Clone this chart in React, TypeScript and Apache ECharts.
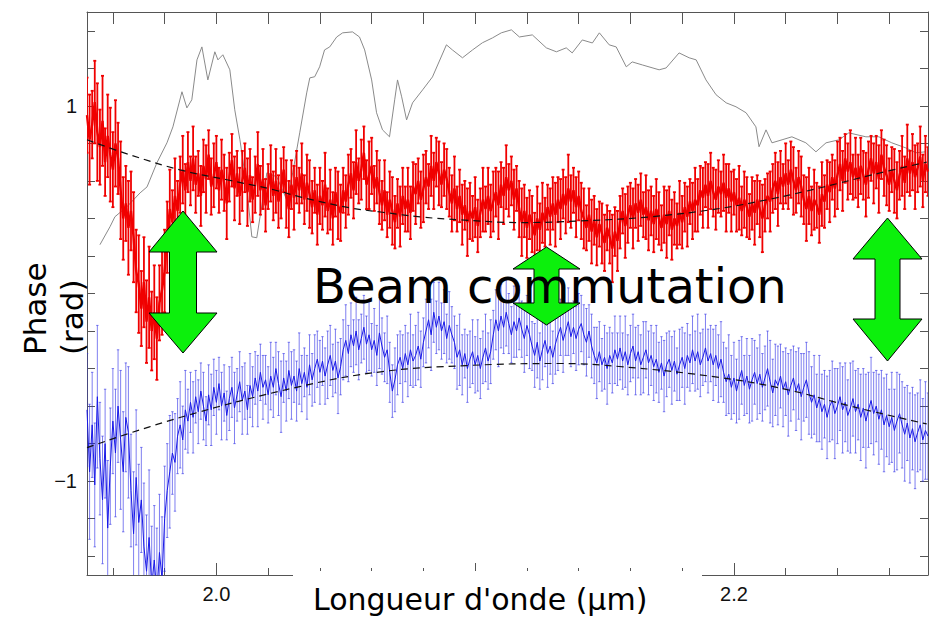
import React, { useEffect, useRef } from "react";
import * as echarts from "echarts";

// Spectral sampling of the phase measurements (µm)
const WL_START = 1.95;
const WL_STEP = 0.001;

const redPhase = [
  0.95, 0.82, 0.90, 1.02, 0.86, 0.78, 0.92, 0.70, 0.84, 0.74,
  0.66, 0.80, 0.72, 0.55, 0.40, 0.48, 0.35, 0.44, 0.30, 0.12,
  0.05, -0.08, 0.06, -0.15, -0.02, -0.20, -0.10, -0.24, -0.05, 0.02,
  0.12, 0.30, 0.45, 0.38, 0.52, 0.44, 0.58, 0.66, 0.55, 0.70,
  0.60, 0.72, 0.58, 0.64, 0.52, 0.68, 0.61, 0.74, 0.57, 0.63,
  0.70, 0.55, 0.66, 0.59, 0.48, 0.62, 0.71, 0.56, 0.64, 0.52,
  0.60, 0.67, 0.54, 0.63, 0.50, 0.58, 0.69, 0.55, 0.61, 0.47,
  0.57, 0.64, 0.52, 0.60, 0.49, 0.56, 0.66, 0.53, 0.45, 0.58,
  0.51, 0.62, 0.55, 0.64, 0.50, 0.59, 0.53, 0.46, 0.55, 0.42,
  0.52, 0.47, 0.58, 0.44, 0.50, 0.40, 0.54, 0.47, 0.43, 0.55,
  0.49, 0.58, 0.64, 0.55, 0.70, 0.60, 0.66, 0.75, 0.58, 0.63,
  0.68, 0.56, 0.62, 0.54, 0.47, 0.55, 0.42, 0.50, 0.44, 0.38,
  0.48, 0.41, 0.52, 0.45, 0.50, 0.43, 0.57, 0.53, 0.60, 0.50,
  0.56, 0.62, 0.57, 0.68, 0.60, 0.70, 0.64, 0.58, 0.66, 0.61,
  0.54, 0.48, 0.56, 0.45, 0.52, 0.42, 0.47, 0.38, 0.44, 0.40,
  0.46, 0.36, 0.43, 0.50, 0.45, 0.52, 0.44, 0.49, 0.54, 0.47,
  0.58, 0.52, 0.62, 0.55, 0.60, 0.50, 0.56, 0.45, 0.38, 0.44,
  0.35, 0.42, 0.37, 0.31, 0.40, 0.34, 0.43, 0.38, 0.46, 0.41,
  0.48, 0.42, 0.50, 0.45, 0.53, 0.47, 0.56, 0.49, 0.55, 0.46,
  0.52, 0.44, 0.40, 0.35, 0.42, 0.33, 0.39, 0.30, 0.37, 0.32,
  0.27, 0.35, 0.30, 0.24, 0.33, 0.28, 0.38, 0.44, 0.36, 0.42,
  0.47, 0.40, 0.48, 0.43, 0.50, 0.42, 0.46, 0.39, 0.44, 0.37,
  0.45, 0.40, 0.35, 0.42, 0.37, 0.44, 0.34, 0.40, 0.36, 0.43,
  0.38, 0.46, 0.41, 0.49, 0.44, 0.50, 0.47, 0.55, 0.51, 0.58,
  0.52, 0.60, 0.54, 0.50, 0.57, 0.53, 0.59, 0.51, 0.56, 0.49,
  0.54, 0.47, 0.51, 0.44, 0.50, 0.46, 0.41, 0.48, 0.43, 0.50,
  0.45, 0.40, 0.47, 0.52, 0.49, 0.56, 0.60, 0.53, 0.62, 0.57,
  0.64, 0.58, 0.66, 0.60, 0.55, 0.62, 0.57, 0.50, 0.45, 0.52,
  0.44, 0.50, 0.47, 0.42, 0.53, 0.49, 0.58, 0.54, 0.62, 0.56,
  0.63, 0.69, 0.60, 0.72, 0.65, 0.70, 0.62, 0.67, 0.60, 0.68,
  0.63, 0.58, 0.66, 0.72, 0.64, 0.70, 0.61, 0.74, 0.67, 0.63,
  0.58, 0.66, 0.60, 0.55, 0.63, 0.68, 0.59, 0.72, 0.64, 0.70,
  0.62, 0.67, 0.73, 0.60, 0.69, 0.65,
];

const redError = [
  0.20, 0.24, 0.18, 0.22, 0.26, 0.20, 0.24, 0.18, 0.22, 0.25,
  0.20, 0.23, 0.19, 0.26, 0.22, 0.20, 0.25, 0.21, 0.24, 0.22,
  0.26, 0.20, 0.24, 0.22, 0.27, 0.21, 0.25, 0.22, 0.20, 0.24,
  0.22, 0.19, 0.21, 0.17, 0.20, 0.16, 0.15, 0.18, 0.14, 0.16,
  0.13, 0.17, 0.15, 0.12, 0.16, 0.14, 0.18, 0.13, 0.15, 0.17,
  0.14, 0.12, 0.16, 0.15, 0.19, 0.13, 0.14, 0.17, 0.12, 0.15,
  0.16, 0.13, 0.18, 0.14, 0.12, 0.15, 0.17, 0.13, 0.16, 0.14,
  0.12, 0.15, 0.13, 0.17, 0.14, 0.16, 0.12, 0.18, 0.15, 0.13,
  0.17, 0.14, 0.12, 0.16, 0.13, 0.15, 0.18, 0.14, 0.12, 0.16,
  0.15, 0.13, 0.17, 0.12, 0.16, 0.14, 0.13, 0.18, 0.15, 0.12,
  0.14, 0.16, 0.13, 0.15, 0.17, 0.12, 0.16, 0.14, 0.13, 0.18,
  0.15, 0.12, 0.14, 0.17, 0.13, 0.16, 0.12, 0.15, 0.18, 0.14,
  0.13, 0.16, 0.15, 0.12, 0.17, 0.14, 0.13, 0.16, 0.12, 0.15,
  0.18, 0.14, 0.12, 0.16, 0.15, 0.13, 0.17, 0.12, 0.14, 0.16,
  0.13, 0.15, 0.17, 0.12, 0.14, 0.16, 0.13, 0.18, 0.15, 0.12,
  0.16, 0.14, 0.13, 0.17, 0.12, 0.15, 0.14, 0.16, 0.13, 0.18,
  0.12, 0.15, 0.17, 0.14, 0.13, 0.16, 0.12, 0.15, 0.18, 0.14,
  0.16, 0.13, 0.15, 0.12, 0.17, 0.14, 0.16, 0.13, 0.12, 0.15,
  0.14, 0.17, 0.12, 0.16, 0.13, 0.15, 0.18, 0.14, 0.12, 0.16,
  0.13, 0.15, 0.16, 0.12, 0.14, 0.17, 0.13, 0.15, 0.12, 0.16,
  0.15, 0.12, 0.14, 0.18, 0.13, 0.16, 0.14, 0.12, 0.17, 0.15,
  0.12, 0.16, 0.13, 0.15, 0.14, 0.12, 0.17, 0.16, 0.13, 0.15,
  0.16, 0.14, 0.12, 0.15, 0.18, 0.13, 0.16, 0.14, 0.12, 0.17,
  0.14, 0.13, 0.16, 0.12, 0.15, 0.17, 0.14, 0.13, 0.16, 0.12,
  0.17, 0.15, 0.13, 0.16, 0.14, 0.12, 0.15, 0.18, 0.13, 0.16,
  0.12, 0.14, 0.17, 0.13, 0.15, 0.16, 0.12, 0.14, 0.17, 0.13,
  0.15, 0.18, 0.14, 0.12, 0.16, 0.13, 0.15, 0.17, 0.14, 0.12,
  0.16, 0.13, 0.15, 0.18, 0.12, 0.14, 0.16, 0.13, 0.17, 0.15,
  0.13, 0.16, 0.12, 0.15, 0.17, 0.14, 0.13, 0.16, 0.12, 0.15,
  0.18, 0.14, 0.16, 0.13, 0.15, 0.17, 0.12, 0.16, 0.14, 0.15,
  0.13, 0.17, 0.15, 0.12, 0.16, 0.14, 0.18, 0.13, 0.15, 0.16,
  0.14, 0.12, 0.17, 0.15, 0.13, 0.16, 0.14, 0.18, 0.12, 0.15,
  0.17, 0.13, 0.16, 0.14, 0.15, 0.13,
];

const bluePhase = [
  -0.62, -0.95, -0.70, -1.02, -0.55, -0.88, -1.10, -0.80, -1.25, -0.92,
  -0.68, -0.85, -0.60, -0.78, -0.95, -0.66, -0.74, -1.05, -1.28, -0.98,
  -1.22, -1.10, -1.35, -1.48, -1.30, -1.56, -1.42, -1.60, -1.38, -1.52,
  -1.20, -1.05, -0.95, -0.85, -0.90, -0.76, -0.70, -0.78, -0.62, -0.68,
  -0.58, -0.66, -0.55, -0.63, -0.52, -0.60, -0.68, -0.54, -0.62, -0.50,
  -0.58, -0.48, -0.60, -0.53, -0.65, -0.56, -0.50, -0.61, -0.54, -0.47,
  -0.57, -0.52, -0.62, -0.49, -0.55, -0.45, -0.52, -0.42, -0.50, -0.46,
  -0.54, -0.44, -0.50, -0.40, -0.48, -0.55, -0.45, -0.52, -0.41, -0.49,
  -0.44, -0.52, -0.40, -0.48, -0.42, -0.50, -0.38, -0.46, -0.40, -0.35,
  -0.42, -0.36, -0.44, -0.38, -0.33, -0.41, -0.36, -0.45, -0.39, -0.30,
  -0.25, -0.32, -0.22, -0.28, -0.20, -0.30, -0.24, -0.18, -0.27, -0.22,
  -0.30, -0.25, -0.33, -0.21, -0.28, -0.34, -0.30, -0.42, -0.52, -0.46,
  -0.38, -0.34, -0.40, -0.32, -0.38, -0.30, -0.36, -0.33, -0.28, -0.35,
  -0.26, -0.20, -0.14, -0.22, -0.10, -0.18, -0.12, -0.20, -0.15, -0.24,
  -0.17, -0.22, -0.26, -0.34, -0.30, -0.38, -0.32, -0.40, -0.35, -0.31,
  -0.38, -0.33, -0.40, -0.34, -0.29, -0.36, -0.31, -0.22, -0.14, -0.20,
  -0.12, -0.18, -0.10, -0.16, -0.22, -0.15, -0.20, -0.13, -0.19, -0.24,
  -0.17, -0.22, -0.28, -0.33, -0.26, -0.36, -0.30, -0.25, -0.32, -0.28,
  -0.34, -0.27, -0.22, -0.18, -0.25, -0.20, -0.15, -0.23, -0.18, -0.24,
  -0.19, -0.16, -0.22, -0.26, -0.20, -0.28, -0.33, -0.37, -0.31, -0.38,
  -0.34, -0.40, -0.33, -0.37, -0.30, -0.35, -0.29, -0.36, -0.31, -0.38,
  -0.32, -0.28, -0.36, -0.31, -0.38, -0.34, -0.30, -0.37, -0.33, -0.39,
  -0.35, -0.42, -0.37, -0.44, -0.38, -0.35, -0.41, -0.36, -0.43, -0.38,
  -0.34, -0.40, -0.33, -0.37, -0.30, -0.36, -0.31, -0.38, -0.34, -0.29,
  -0.36, -0.32, -0.38, -0.33, -0.40, -0.35, -0.42, -0.47, -0.43, -0.50,
  -0.45, -0.52, -0.46, -0.41, -0.49, -0.44, -0.51, -0.46, -0.42, -0.48,
  -0.43, -0.50, -0.45, -0.40, -0.47, -0.53, -0.46, -0.49, -0.44, -0.51,
  -0.47, -0.54, -0.49, -0.45, -0.52, -0.48, -0.55, -0.50, -0.46, -0.53,
  -0.58, -0.54, -0.61, -0.56, -0.63, -0.59, -0.66, -0.60, -0.57, -0.64,
  -0.60, -0.55, -0.62, -0.58, -0.65, -0.61, -0.56, -0.63, -0.59, -0.66,
  -0.61, -0.68, -0.62, -0.57, -0.64, -0.60, -0.67, -0.62, -0.70, -0.65,
  -0.71, -0.66, -0.73, -0.68, -0.64, -0.70, -0.75, -0.69, -0.77, -0.72,
  -0.79, -0.74, -0.70, -0.78, -0.73, -0.76,
];

const blueError = [
  0.30, 0.36, 0.28, 0.33, 0.38, 0.30, 0.34, 0.29, 0.36, 0.31,
  0.28, 0.34, 0.30, 0.37, 0.32, 0.29, 0.35, 0.30, 0.33, 0.36,
  0.31, 0.28, 0.34, 0.30, 0.36, 0.32, 0.29, 0.35, 0.31, 0.33,
  0.28, 0.25, 0.30, 0.22, 0.26, 0.20, 0.23, 0.18, 0.21, 0.17,
  0.16, 0.19, 0.14, 0.17, 0.15, 0.18, 0.13, 0.16, 0.19, 0.15,
  0.17, 0.14, 0.18, 0.15, 0.13, 0.17, 0.16, 0.19, 0.14, 0.16,
  0.18, 0.15, 0.13, 0.17, 0.16, 0.14, 0.19, 0.15, 0.17, 0.13,
  0.15, 0.18, 0.16, 0.14, 0.17, 0.19, 0.13, 0.16, 0.15, 0.18,
  0.14, 0.16, 0.19, 0.15, 0.13, 0.17, 0.16, 0.14, 0.18, 0.15,
  0.17, 0.13, 0.15, 0.18, 0.16, 0.14, 0.17, 0.19, 0.15, 0.16,
  0.19, 0.15, 0.17, 0.14, 0.18, 0.16, 0.13, 0.17, 0.15, 0.19,
  0.14, 0.17, 0.16, 0.19, 0.15, 0.13, 0.18, 0.16, 0.14, 0.17,
  0.16, 0.14, 0.18, 0.15, 0.17, 0.19, 0.14, 0.16, 0.18, 0.15,
  0.13, 0.17, 0.15, 0.19, 0.16, 0.14, 0.18, 0.15, 0.17, 0.13,
  0.18, 0.15, 0.14, 0.17, 0.19, 0.16, 0.13, 0.18, 0.15, 0.17,
  0.15, 0.19, 0.16, 0.14, 0.18, 0.15, 0.17, 0.13, 0.16, 0.19,
  0.17, 0.14, 0.18, 0.16, 0.15, 0.19, 0.14, 0.17, 0.15, 0.18,
  0.16, 0.18, 0.13, 0.17, 0.19, 0.15, 0.16, 0.14, 0.18, 0.15,
  0.14, 0.16, 0.19, 0.15, 0.17, 0.13, 0.18, 0.16, 0.14, 0.17,
  0.19, 0.15, 0.16, 0.18, 0.14, 0.17, 0.15, 0.19, 0.16, 0.14,
  0.17, 0.19, 0.15, 0.16, 0.18, 0.14, 0.17, 0.15, 0.19, 0.16,
  0.15, 0.17, 0.18, 0.14, 0.16, 0.19, 0.15, 0.17, 0.16, 0.18,
  0.18, 0.16, 0.14, 0.19, 0.17, 0.15, 0.18, 0.16, 0.14, 0.19,
  0.16, 0.19, 0.17, 0.15, 0.18, 0.16, 0.20, 0.17, 0.15, 0.18,
  0.17, 0.15, 0.19, 0.16, 0.18, 0.20, 0.16, 0.18, 0.21, 0.17,
  0.19, 0.17, 0.21, 0.18, 0.16, 0.20, 0.18, 0.22, 0.17, 0.19,
  0.21, 0.18, 0.17, 0.20, 0.22, 0.18, 0.19, 0.21, 0.17, 0.20,
  0.18, 0.22, 0.19, 0.17, 0.21, 0.19, 0.23, 0.18, 0.20, 0.22,
  0.19, 0.21, 0.18, 0.23, 0.20, 0.18, 0.22, 0.19, 0.21, 0.24,
  0.20, 0.18, 0.23, 0.21, 0.19, 0.24, 0.20, 0.22, 0.19, 0.23,
  0.21, 0.25, 0.20, 0.23, 0.22, 0.19, 0.24, 0.21, 0.25, 0.22,
  0.20, 0.24, 0.22, 0.26, 0.21, 0.23, 0.25, 0.20, 0.24, 0.22,
  0.25, 0.21, 0.24, 0.22, 0.26, 0.23,
];

const grayWavelength = [
  1.9550, 1.9589, 1.9608, 1.9654, 1.9705, 1.9732, 1.9770, 1.9809, 1.9832, 1.9867,
  1.9886, 1.9905, 1.9925, 1.9944, 1.9967, 1.9994, 2.0006, 2.0025, 2.0052, 2.0071,
  2.0091, 2.0117, 2.0137, 2.0156, 2.0179, 2.0195, 2.0233, 2.0272, 2.0295, 2.0322,
  2.0349, 2.0361, 2.0380, 2.0399, 2.0418, 2.0438, 2.0465, 2.0488, 2.0526, 2.0553,
  2.0573, 2.0600, 2.0619, 2.0642, 2.0669, 2.0689, 2.0700, 2.0716, 2.0735, 2.0758,
  2.0797, 2.0835, 2.0889, 2.0912, 2.0951, 2.0990, 2.1028, 2.1067, 2.1101, 2.1140,
  2.1171, 2.1221, 2.1275, 2.1314, 2.1352, 2.1375, 2.1414, 2.1453, 2.1480, 2.1518,
  2.1545, 2.1584, 2.1607, 2.1646, 2.1711, 2.1738, 2.1788, 2.1827, 2.1854, 2.1892,
  2.1931, 2.1970, 2.2008, 2.2047, 2.2085, 2.2097, 2.2124, 2.2147, 2.2186, 2.2224,
  2.2278, 2.2317, 2.2356, 2.2406, 2.2444, 2.2510, 2.2560, 2.2610, 2.2664, 2.2703,
  2.2741,
];

const grayValue = [
  0.260, 0.356, 0.409, 0.462, 0.536, 0.568, 0.696, 0.803, 0.888, 1.075,
  0.989, 1.032, 1.245, 1.314, 1.138, 1.288, 1.245, 1.272, 1.192, 0.979,
  0.819, 0.568, 0.302, 0.297, 0.499, 0.643, 0.622, 0.499, 0.643, 0.856,
  1.069, 1.149, 1.155, 1.208, 1.298, 1.314, 1.367, 1.389, 1.394, 1.367,
  1.298, 1.138, 0.963, 0.872, 0.835, 1.032, 1.138, 1.048, 0.925, 1.016,
  1.085, 1.154, 1.325, 1.298, 1.256, 1.298, 1.336, 1.362, 1.389, 1.405,
  1.367, 1.378, 1.309, 1.288, 1.309, 1.282, 1.351, 1.335, 1.389, 1.325,
  1.314, 1.208, 1.234, 1.218, 1.192, 1.202, 1.282, 1.256, 1.245, 1.138,
  1.059, 1.016, 0.995, 0.963, 0.888, 0.782, 0.872, 0.803, 0.819, 0.835,
  0.803, 0.755, 0.803, 0.819, 0.856, 0.835, 0.835, 0.803, 0.776, 0.750,
  0.755,
];

const redFitWavelength = [1.95, 1.9666, 1.9859, 2.004, 2.0222, 2.0322, 2.0515, 2.0642, 2.0797, 2.0939, 2.1171, 2.143, 2.168, 2.194, 2.2147, 2.2278, 2.2406, 2.2533, 2.2745];
const redFitPhase = [0.819, 0.739, 0.659, 0.606, 0.553, 0.515, 0.457, 0.433, 0.407, 0.393, 0.378, 0.388, 0.409, 0.452, 0.505, 0.545, 0.588, 0.632, 0.700];

const blueFitWavelength = [1.95, 1.9859, 2.0322, 2.0642, 2.0966, 2.1325, 2.1557, 2.1943, 2.2201, 2.2456, 2.2745];
const blueFitPhase = [-0.821, -0.661, -0.496, -0.416, -0.384, -0.373, -0.389, -0.447, -0.511, -0.602, -0.695];

const xMin = 1.95;
const xMax = 2.275;
const yMin = -1.5;
const yMax = 1.5;
const xMajorTicks = [2.0, 2.1, 2.2];
const xLabelValues = [2.0, 2.2];
const xMinorTicks = [1.96, 1.98, 2.0, 2.02, 2.04, 2.06, 2.08, 2.1, 2.12, 2.14, 2.16, 2.18, 2.2, 2.22, 2.24, 2.26];
const yTicks = [-1.4, -1.2, -1.0, -0.8, -0.6, -0.4, -0.2, 0, 0.2, 0.4, 0.6, 0.8, 1.0, 1.2, 1.4];
const yLabelValues = [-1, 1];

const AXIS_COLOR = "#555";
const TICK_FONT = "Liberation Sans";
const TITLE_FONT = "DejaVu Sans";

function errorBarRenderer(color: string, width: number, capHalf: number, opacity: number) {
  return (params: any, api: any) => {
    const x = api.value(0);
    const y = api.value(1);
    const e = api.value(2);
    const hi = api.coord([x, y + e]);
    const lo = api.coord([x, y - e]);
    const style = { stroke: color, lineWidth: width, opacity };
    return {
      type: "group",
      children: [
        { type: "line", shape: { x1: hi[0], y1: hi[1], x2: lo[0], y2: lo[1] }, style },
        { type: "line", shape: { x1: hi[0] - capHalf, y1: hi[1], x2: hi[0] + capHalf, y2: hi[1] }, style },
        { type: "line", shape: { x1: lo[0] - capHalf, y1: lo[1], x2: lo[0] + capHalf, y2: lo[1] }, style },
      ],
    };
  };
}

function arrowShape(cx: number, top: number, headTop: number, headBottom: number, bottom: number, headHalf: number, shaftHalf: number) {
  return [
    [cx, top],
    [cx + headHalf, headTop],
    [cx + shaftHalf, headTop],
    [cx + shaftHalf, headBottom],
    [cx + headHalf, headBottom],
    [cx, bottom],
    [cx - headHalf, headBottom],
    [cx - shaftHalf, headBottom],
    [cx - shaftHalf, headTop],
    [cx - headHalf, headTop],
  ];
}

export default function App() {
  const ref = useRef<HTMLDivElement>(null);

  useEffect(() => {
    document.body.style.margin = "0";
    if (!ref.current) return;
    const chart = echarts.init(ref.current, null, { renderer: "svg" });

    const wl = redPhase.map((_, i) => +(WL_START + WL_STEP * i).toFixed(4));
    const redLine = redPhase.map((v, i) => [wl[i], v]);
    const redBars = redPhase.map((v, i) => [wl[i], v, redError[i]]);
    const blueLine = bluePhase.map((v, i) => [wl[i], v]);
    const blueBars = bluePhase.map((v, i) => [wl[i], v, blueError[i]]);
    const grayLine = grayWavelength.map((w, i) => [w, grayValue[i]]);
    const redFit = redFitWavelength.map((w, i) => [w, redFitPhase[i]]);
    const blueFit = blueFitWavelength.map((w, i) => [w, blueFitPhase[i]]);

    const arrowStyle = { fill: "#0cf00c", stroke: "#000", lineWidth: 1 };

    chart.setOption({
      animation: false,
      backgroundColor: "#fff",
      grid: { left: 87, top: 12, width: 841, height: 563, containLabel: false },
      xAxis: [
        {
          type: "value", position: "bottom", min: xMin, max: xMax,
          axisLine: { show: true, onZero: false, lineStyle: { color: AXIS_COLOR, width: 1 } },
          axisTick: { show: true, inside: true, length: 12, customValues: xMajorTicks, lineStyle: { color: AXIS_COLOR, width: 1 } },
          axisLabel: {
            show: true, customValues: xLabelValues, margin: 9, fontSize: 20, color: "#111", fontFamily: TICK_FONT,
            formatter: (v: number) => v.toFixed(1),
          },
          splitLine: { show: false },
        },
        {
          type: "value", position: "bottom", min: xMin, max: xMax,
          axisLine: { show: false, onZero: false },
          axisTick: { show: true, inside: true, length: 7, customValues: xMinorTicks, lineStyle: { color: AXIS_COLOR, width: 1 } },
          axisLabel: { show: false },
          splitLine: { show: false },
        },
        {
          type: "value", position: "top", min: xMin, max: xMax,
          axisLine: { show: true, onZero: false, lineStyle: { color: AXIS_COLOR, width: 1 } },
          axisTick: { show: true, inside: true, length: 12, customValues: xMinorTicks, lineStyle: { color: AXIS_COLOR, width: 1 } },
          axisLabel: { show: false },
          splitLine: { show: false },
        },
      ],
      yAxis: [
        {
          type: "value", position: "left", min: yMin, max: yMax,
          axisLine: { show: true, onZero: false, lineStyle: { color: AXIS_COLOR, width: 1 } },
          axisTick: { show: true, inside: true, length: 8, customValues: yTicks, lineStyle: { color: AXIS_COLOR, width: 1 } },
          axisLabel: {
            show: true, customValues: yLabelValues, margin: 10, fontSize: 20, color: "#111", fontFamily: TICK_FONT,
            formatter: (v: number) => (v < 0 ? "\u2212" + Math.abs(v) : String(v)),
          },
          splitLine: { show: false },
        },
        {
          type: "value", position: "right", min: yMin, max: yMax,
          axisLine: { show: true, onZero: false, lineStyle: { color: AXIS_COLOR, width: 1 } },
          axisTick: { show: true, inside: true, length: 8, customValues: yTicks, lineStyle: { color: AXIS_COLOR, width: 1 } },
          axisLabel: { show: false },
          splitLine: { show: false },
        },
      ],
      series: [
        {
          name: "spectre", type: "line", xAxisIndex: 0, yAxisIndex: 0, data: grayLine,
          showSymbol: false, lineStyle: { color: "#8a8a8a", width: 1 }, z: 1, silent: true,
        },
        {
          name: "rouge-err", type: "custom", xAxisIndex: 0, yAxisIndex: 0, data: redBars,
          encode: { x: 0, y: 1 }, renderItem: errorBarRenderer("#f00000", 1.8, 1.5, 1), clip: true, z: 2, silent: true,
        },
        {
          name: "rouge", type: "line", xAxisIndex: 0, yAxisIndex: 0, data: redLine,
          showSymbol: false, lineStyle: { color: "#f00000", width: 2.4 }, z: 3, silent: true,
        },
        {
          name: "bleu-err", type: "custom", xAxisIndex: 0, yAxisIndex: 0, data: blueBars,
          encode: { x: 0, y: 1 }, renderItem: errorBarRenderer("#2a2ae6", 1, 1.2, 0.6), clip: true, z: 2, silent: true,
        },
        {
          name: "bleu", type: "line", xAxisIndex: 0, yAxisIndex: 0, data: blueLine,
          showSymbol: false, lineStyle: { color: "#1a1ae8", width: 1 }, z: 3, silent: true,
        },
        {
          name: "fit-rouge", type: "line", xAxisIndex: 0, yAxisIndex: 0, data: redFit, smooth: 0.4,
          showSymbol: false, lineStyle: { color: "#111", width: 1.2, type: [7, 5] }, z: 4, silent: true,
        },
        {
          name: "fit-bleu", type: "line", xAxisIndex: 0, yAxisIndex: 0, data: blueFit, smooth: 0.4,
          showSymbol: false, lineStyle: { color: "#111", width: 1.2, type: [7, 5] }, z: 4, silent: true,
        },
      ],
      graphic: [
        { type: "polygon", z: 50, shape: { points: arrowShape(183, 211, 252, 313, 353, 34, 13.5) }, style: arrowStyle },
        { type: "polygon", z: 50, shape: { points: arrowShape(546.5, 247, 269, 303, 325, 33.5, 12.5) }, style: arrowStyle },
        { type: "polygon", z: 50, shape: { points: arrowShape(887.5, 218, 259, 319, 361, 34.5, 12.5) }, style: arrowStyle },
        {
          type: "text", z: 60, x: 313, y: 286,
          style: { text: "Beam commutation", fill: "#000", font: `48px '${TITLE_FONT}'`, align: "left", verticalAlign: "middle" },
        },
        { type: "rect", z: 40, shape: { x: 293, y: 571, width: 409, height: 47 }, style: { fill: "#fff" } },
        {
          type: "text", z: 60, x: 313, y: 599,
          style: { text: "Longueur d'onde (\u00b5m)", fill: "#000", font: `30px '${TITLE_FONT}'`, align: "left", verticalAlign: "middle" },
        },
        {
          type: "text", z: 60, x: 35, y: 355, rotation: Math.PI / 2,
          style: { text: "Phase", fill: "#000", font: `31px '${TITLE_FONT}'`, align: "left", verticalAlign: "middle" },
        },
        {
          type: "text", z: 60, x: 72, y: 355, rotation: Math.PI / 2,
          style: { text: "(rad)", fill: "#000", font: `31px '${TITLE_FONT}'`, align: "left", verticalAlign: "middle" },
        },
      ],
    });

    return () => chart.dispose();
  }, []);

  return <div ref={ref} style={{ width: 937, height: 618 }} />;
}
